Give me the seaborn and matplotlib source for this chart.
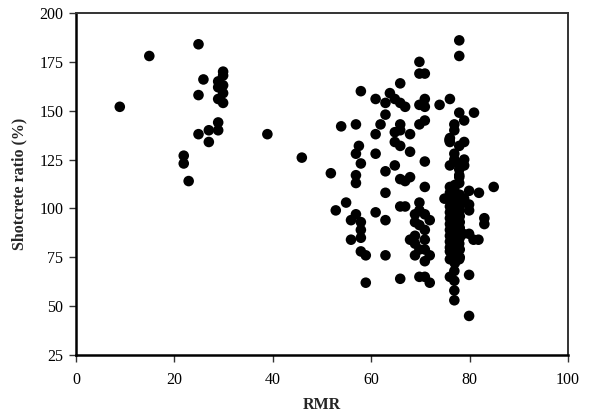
import matplotlib
matplotlib.use("Agg")
import matplotlib.pyplot as plt
import seaborn as sns
import pandas as pd

# RMR values and shotcrete ratio (%)
rmr_left = [8.9, 14.9, 24.9, 25.9, 24.9, 29.9, 29.9, 28.9, 29.9, 28.9, 29.9, 28.9, 29.9,
            28.9, 28.9, 27.0, 24.9, 27.0, 38.9, 45.9, 21.9, 21.9, 22.9]
ratio_left = [152, 178, 184, 166, 158, 170, 168, 165, 163, 162, 159, 156, 154,
              144, 140, 140, 138, 134, 138, 126, 127, 123, 114]

rmr_mid = [77.9, 77.9, 69.8, 69.8, 70.9, 65.9, 57.9, 60.9, 62.9, 63.8, 64.8, 65.9, 66.9,
           69.8, 70.9, 70.9, 73.9, 76.0, 62.9, 77.9, 80.9, 78.9, 69.8, 70.9, 65.9, 61.9,
           53.9, 56.9, 76.9, 76.9, 60.9, 64.8, 65.9, 67.9, 76.0, 76.0, 78.9, 77.9, 64.8,
           65.9, 57.5, 56.9, 60.9, 67.9, 76.9, 76.9, 76.0, 77.9, 78.9, 78.9, 57.9, 70.9,
           51.8, 56.9, 56.9, 62.9, 64.8, 65.9, 66.9, 67.9, 77.9, 77.9, 70.9, 62.9, 79.9,
           81.9, 84.9, 76.0, 76.9, 77.9]
ratio_mid = [186, 178, 175, 169, 169, 164, 160, 156, 154, 159, 156, 154, 152,
             153, 156, 152, 153, 156, 148, 149, 149, 145, 143, 145, 143, 143,
             142, 143, 143, 140, 138, 139, 140, 138, 136, 134, 134, 132, 134,
             132, 132, 128, 128, 129, 128, 125, 122, 122, 125, 122, 123, 124,
             118, 117, 113, 119, 122, 115, 114, 116, 120, 116, 111, 108, 109,
             108, 111, 111, 110, 113]

rmr_low = [54.9, 52.8, 56.9, 55.9, 57.9, 57.9, 55.9, 57.9, 60.9, 62.9, 65.9, 66.9, 69.8,
           69.8, 68.9, 70.9, 71.9, 68.9, 69.8, 70.9, 68.9, 70.9, 67.9, 68.9, 69.8, 70.9,
           71.9, 70.9, 68.9, 57.9, 58.9, 62.9, 58.9, 65.9, 69.8, 70.9, 71.9, 76.0, 76.9,
           76.9, 79.9, 76.9, 76.9, 79.9, 83.0, 83.0, 81.8, 80.8, 79.9, 78.7, 79.9, 79.9,
           78.9, 77.9, 77.9, 76.0, 76.9, 74.9, 75.9, 78.9, 75.9, 77.9]
ratio_low = [103, 99, 97, 94, 93, 89, 84, 85, 98, 94, 101, 101, 103,
             99, 97, 97, 94, 93, 91.5, 89, 86, 84, 84, 82, 79, 79,
             76, 73, 76, 78, 76, 76, 62, 64, 65, 65, 62, 65, 68,
             63, 66, 58, 53, 45, 95, 92, 84, 84, 87, 87, 102, 99,
             103, 82, 74, 80, 77, 105, 106, 105, 135, 117]

rmr_dense = [76] * 11 + [77] * 12 + [78] * 9
ratio_dense = [74, 78, 83, 86, 89, 92, 95, 98, 101, 104, 108,
               72, 76, 80, 84, 88, 91, 94, 97, 100, 103, 106, 112,
               75, 79, 85, 90, 93, 96, 99, 102, 107]

x_ticks = [0, 20, 40, 60, 80, 100]
y_ticks = [25, 50, 75, 100, 125, 150, 175, 200]

df = pd.DataFrame({
    "RMR": rmr_left + rmr_mid + rmr_low + rmr_dense,
    "ratio": ratio_left + ratio_mid + ratio_low + ratio_dense,
})

sns.set_style("ticks")
plt.rcParams["font.family"] = ["Liberation Serif", "DejaVu Serif"]

fig = plt.figure(figsize=(5.9, 4.18), dpi=100)
ax = fig.add_axes([0.1288, 0.1507, 0.8339, 0.8182])

sns.scatterplot(data=df, x="RMR", y="ratio", ax=ax, color="black",
                edgecolor="none", s=58, legend=False)

ax.set_xlim(0, 100)
ax.set_ylim(25, 200)
ax.set_xticks(x_ticks)
ax.set_yticks(y_ticks)
ax.tick_params(axis="both", labelsize=11.5, direction="out", length=5,
               width=1, colors="#333333", labelcolor="black", pad=4)
ax.tick_params(axis="x", pad=7)

for side in ["left", "bottom"]:
    ax.spines[side].set_linewidth(1.8)
    ax.spines[side].set_color("black")
for side in ["top", "right"]:
    ax.spines[side].set_visible(True)
    ax.spines[side].set_linewidth(1.4)
    ax.spines[side].set_color("#333333")

ax.set_xlabel("RMR", fontsize=11.5, fontweight="bold", labelpad=7)
ax.set_ylabel("Shotcrete ratio (%)", fontsize=11.5, fontweight="bold", labelpad=9)

fig.savefig("out.png", dpi=100)
